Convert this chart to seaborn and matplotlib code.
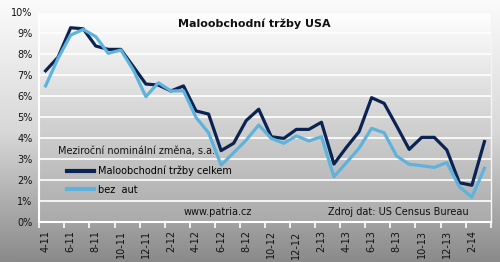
import numpy as np
import pandas as pd
import matplotlib
matplotlib.use("Agg")
import matplotlib.pyplot as plt
import seaborn as sns
from matplotlib.colors import LinearSegmentedColormap

months = ["4-11","5-11","6-11","7-11","8-11","9-11","10-11","11-11","12-11",
          "1-12","2-12","3-12","4-12","5-12","6-12","7-12","8-12","9-12","10-12","11-12","12-12",
          "1-13","2-13","3-13","4-13","5-13","6-13","7-13","8-13","9-13","10-13","11-13","12-13",
          "1-14","2-14","3-14"]
total = [7.2, 7.85, 9.25, 9.2, 8.38, 8.22, 8.22, 7.4, 6.57,
         6.52, 6.24, 6.48, 5.29, 5.14, 3.4, 3.75, 4.83, 5.37, 4.06, 3.98, 4.41,
         4.41, 4.75, 2.76, 3.56, 4.3, 5.92, 5.65, 4.57, 3.46, 4.03, 4.03, 3.43,
         1.87, 1.75, 3.83]
ex_auto = [6.48, 7.8, 8.9, 9.17, 8.83, 8.03, 8.19, 7.24, 5.97,
           6.63, 6.24, 6.25, 4.98, 4.25, 2.71, 3.3, 3.9, 4.62, 3.98, 3.75, 4.1,
           3.86, 4.06, 2.16, 2.83, 3.51, 4.46, 4.25, 3.14, 2.75, 2.68, 2.6, 2.83,
           1.68, 1.18, 2.56]
series_names = ["Maloobchodní tržby celkem", "bez  aut"]
colors = ["#0b2352", "#5db3dc"]

df = pd.DataFrame({
    "i": list(range(len(months))) * 2,
    "val": total + ex_auto,
    "serie": [series_names[0]] * len(months) + [series_names[1]] * len(months),
})

plt.rcParams["font.family"] = ["DejaVu Sans"]
fig = plt.figure(figsize=(5.0, 2.62), dpi=100)

bg = fig.add_axes([0, 0, 1, 1], zorder=-10)
grad = np.linspace(0, 1, 256).reshape(-1, 1)
cm_fig = LinearSegmentedColormap.from_list("f", ["#fbfbfb", "#d8d8d8", "#8a8a8a"])
bg.imshow(grad, aspect="auto", cmap=cm_fig, extent=[0, 1, 0, 1], origin="upper")
bg.set_axis_off()

ax = fig.add_axes([39.3/500, 1-222/262, (490.7-39.3)/500, (222-12)/262])
ax.patch.set_alpha(0)
cm_ax = LinearSegmentedColormap.from_list("a", ["#ffffff", "#d4d4d4", "#aaaaaa"])
ax.imshow(grad, aspect="auto", cmap=cm_ax, extent=[0, 1, 0, 1], origin="upper",
          transform=ax.transAxes, zorder=0)

for y in range(1, 11):
    ax.axhline(y, color="white", lw=1.2, zorder=1)

sns.lineplot(data=df, x="i", y="val", hue="serie", palette=colors, hue_order=series_names,
             lw=2.3, ax=ax, zorder=3, legend=True)

ax.set_xlim(-0.5, len(months) - 0.5)
ax.set_ylim(0, 10)
ax.set_xlabel("")
ax.set_ylabel("")
ax.set_yticks(range(0, 11))
ax.set_yticklabels([f"{v}%" for v in range(0, 11)], fontsize=7, color="#111111")
ax.tick_params(axis="y", length=0, pad=5)
ax.set_xticks(np.arange(-0.5, len(months), 2))
ax.set_xticklabels([])
ax.tick_params(axis="x", which="major", length=4, width=1.2, color="white", direction="out")
ax.set_xticks(np.arange(0, len(months), 2), minor=True)
ax.set_xticklabels(months[::2], minor=True, rotation=90, fontsize=7, color="#111111")
ax.tick_params(axis="x", which="minor", length=0, pad=6)
for s in ["top", "right"]:
    ax.spines[s].set_color("#f4f4f4")
    ax.spines[s].set_linewidth(1)
for s in ["left", "bottom"]:
    ax.spines[s].set_color("white")
    ax.spines[s].set_linewidth(1.5)

handles, labels = ax.get_legend_handles_labels()
leg = ax.legend(handles, labels, loc="upper left",
                bbox_to_anchor=(67/500, 1-166/262), bbox_transform=fig.transFigure,
                frameon=False, fontsize=7, handlelength=2.8, handletextpad=0.35,
                labelspacing=0.85, borderpad=0, borderaxespad=0)
for ln in leg.get_lines():
    ln.set_linewidth(3)

fig.text(58/500, 1-151/262, "Meziroční nominální změna, s.a.", fontsize=7,
         ha="left", va="center", color="#111111")
fig.text(254/500, 1-24/262, "Maloobchodní tržby USA", fontsize=8, fontweight="bold",
         ha="center", va="center", color="#111111")
fig.text(218/500, 1-212/262, "www.patria.cz", fontsize=7, ha="center", va="center",
         color="#111111")
fig.text(398/500, 1-212/262, "Zdroj dat: US Census Bureau", fontsize=7, ha="center",
         va="center", color="#111111")

fig.savefig("out.png", dpi=100)
